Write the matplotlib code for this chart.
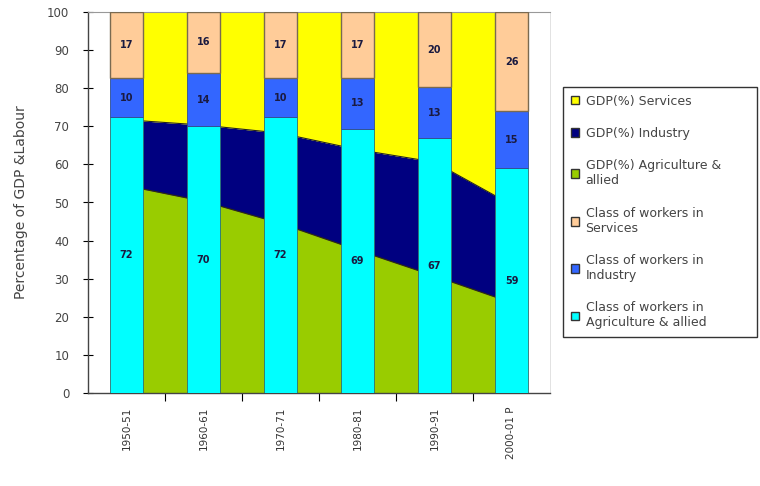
import matplotlib
matplotlib.use("Agg")
import matplotlib.pyplot as plt
import numpy as np
from matplotlib.patches import Patch

periods = ["1950-51", "1960-61", "1970-71", "1980-81", "1990-91", "2000-01 P"]

# Labour share (%) — bars
lab_agri = [72.4, 70, 72.4, 69.4, 66.8, 59]
lab_ind = [10.3, 14, 10.3, 13.2, 13.4, 15]
lab_serv = [17.3, 16, 17.3, 17.4, 19.8, 26]

# GDP share (%) — stacked area
gdp_agri = [54.4, 50.3, 44.5, 37.5, 30.7, 23.7]
gdp_ind = [17.3, 20.0, 23.7, 26.4, 29.9, 25.7]
gdp_serv = [28.3, 29.7, 31.8, 36.1, 39.4, 50.6]

c_gagri = "#99CC00"
c_gind = "#000080"
c_gserv = "#FFFF00"
c_lagri = "#00FFFF"
c_lind = "#3366FF"
c_lserv = "#FFCC99"

plt.rcParams["font.family"] = ["DejaVu Sans"]
fig = plt.figure(figsize=(7.6, 4.86), dpi=100)
ax = fig.add_axes([88/760, 1-393/486, 462/760, 381/486])

x = np.arange(len(periods))
ga = np.array(gdp_agri)
gi = ga + np.array(gdp_ind)
gs = gi + np.array(gdp_serv)
ax.fill_between(x, 0, ga, color=c_gagri, lw=0, zorder=1)
ax.fill_between(x, ga, gi, color=c_gind, lw=0, zorder=1)
ax.fill_between(x, gi, gs, color=c_gserv, lw=0, zorder=1)
ax.plot(x, ga, color="#333300", lw=0.8, zorder=1.5)
ax.plot(x, gi, color="#222222", lw=0.8, zorder=1.5)

w = 0.42
la = np.array(lab_agri)
li = np.array(lab_ind)
ls = np.array(lab_serv)
ax.bar(x, la, w, color=c_lagri, edgecolor="#2f6f6f", lw=0.6, zorder=3)
ax.bar(x, li, w, bottom=la, color=c_lind, edgecolor="#2f4f8f", lw=0.6, zorder=3)
ax.bar(x, ls, w, bottom=la+li, color=c_lserv, edgecolor="#7a6a50", lw=1.0, zorder=3)

tc = "#1a1a40"
for i in range(len(x)):
    ax.text(x[i], la[i]/2, f"{lab_agri[i]:.0f}", ha="center", va="center", fontsize=7, fontweight="bold", color=tc, zorder=5)
    ax.text(x[i], la[i]+li[i]/2, f"{lab_ind[i]:.0f}", ha="center", va="center", fontsize=7, fontweight="bold", color=tc, zorder=5)
    ax.text(x[i], la[i]+li[i]+ls[i]/2, f"{lab_serv[i]:.0f}", ha="center", va="center", fontsize=7, fontweight="bold", color=tc, zorder=5)

ax.set_xlim(-0.5, len(x)-0.5)
ax.set_ylim(0, 100)
ax.set_yticks(np.arange(0, 101, 10))
ax.tick_params(axis="y", direction="inout", length=7, labelsize=8.5, labelcolor="#444444", width=0.8, pad=10)
ax.set_xticks(x)
ax.set_xticklabels(periods, rotation=90, fontsize=7.5, color="#333333")
ax.set_xticks(x[:-1]+0.5, minor=True)
ax.tick_params(axis="x", which="major", length=0, pad=10)
ax.tick_params(axis="x", which="minor", direction="out", length=6, width=0.8)
ax.set_ylabel("Percentage of GDP &Labour", fontsize=10, color="#444444", labelpad=14)

for s in ["left", "bottom"]:
    ax.spines[s].set_color("#444444")
    ax.spines[s].set_linewidth(1.0)
ax.spines["top"].set_color("#999999")
ax.spines["right"].set_color("#dddddd")
ax.spines["top"].set_linewidth(0.8)
ax.spines["right"].set_linewidth(0.6)

handles = [
    Patch(facecolor=c_gserv, edgecolor="#333333", label="GDP(%) Services"),
    Patch(facecolor=c_gind, edgecolor="#333333", label="GDP(%) Industry"),
    Patch(facecolor=c_gagri, edgecolor="#333333", label="GDP(%) Agriculture &\nallied"),
    Patch(facecolor=c_lserv, edgecolor="#333333", label="Class of workers in\nServices"),
    Patch(facecolor=c_lind, edgecolor="#333333", label="Class of workers in\nIndustry"),
    Patch(facecolor=c_lagri, edgecolor="#333333", label="Class of workers in\nAgriculture & allied"),
]
leg = fig.legend(handles=handles, loc="upper left",
                 bbox_to_anchor=(563/760, 1-332/486, 194/760, 245/486), mode="expand",
                 fontsize=9, frameon=True, fancybox=False, edgecolor="black",
                 handlelength=0.7, handleheight=0.7, handletextpad=0.5,
                 labelspacing=1.55, borderpad=0.6, borderaxespad=0)
leg.get_frame().set_linewidth(1.0)
for t in leg.get_texts():
    t.set_color("#444444")

fig.savefig("out.png", dpi=100)
